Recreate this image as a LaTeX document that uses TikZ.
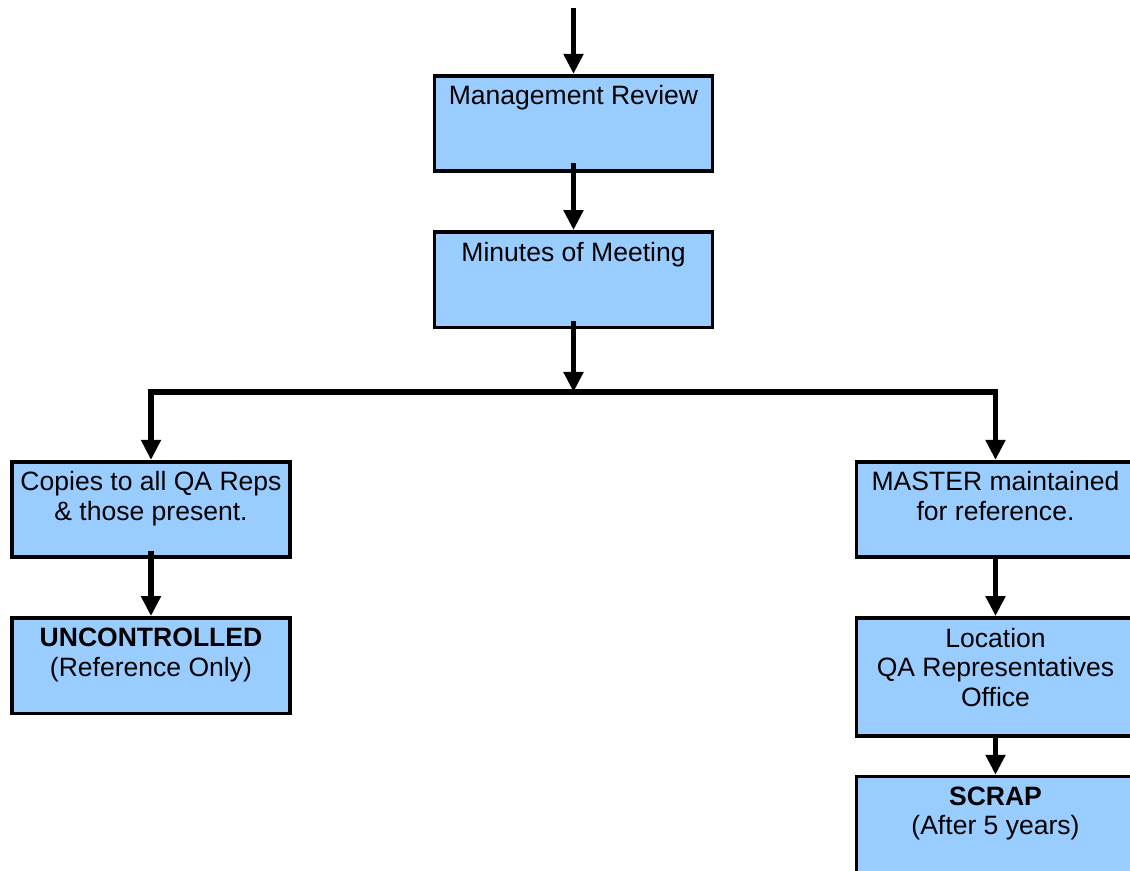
\documentclass[tikz,border=0pt]{standalone}
\usepackage{fontspec}
\setmainfont{Liberation Sans}
\usetikzlibrary{positioning,arrows.meta}
\definecolor{boxblue}{HTML}{99CCFF}
\tikzset{
  box/.style={draw,line width=2.1pt,fill=boxblue,minimum width=5.56cm,
              minimum height=1.91cm,inner sep=0pt},
  boxtext/.style={anchor=north,align=center,inner sep=0pt,yshift=-0.23cm,
              font=\fontsize{15.1}{16.9}\selectfont},
  flow/.style={-{Triangle[length=0.4cm,width=0.38cm]},line width=3.3pt},
}
\begin{document}
\begin{tikzpicture}[node distance=1.14cm]
  \useasboundingbox (0,0) rectangle (22.6,-17.42);
  % \draw[help lines] (0,-18) grid (23,0);
  \node[box] (mgmt) at (11.47,-2.47) {};
  \node[box,below=of mgmt] (minutes) {};
  \node[box] (copies) at (3.02,-10.19) {};
  \node[box,below=of copies] (uncontr) {};
  \node[box] (master) at (19.91,-10.19) {};
  \node[box,minimum height=2.36cm,below=of master] (location) {};
  \node[box,minimum height=2.4cm,below=0.74cm of location] (scrap) {};
  % texts in the boxes
  \node[boxtext] (mgmt-t) at (mgmt.north) {Management Review};
  \node[boxtext] (minutes-t) at (minutes.north) {Minutes of Meeting};
  \node[boxtext] (copies-t) at (copies.north) {Copies to all QA Reps\\\& those present.};
  \node[boxtext] (uncontr-t) at (uncontr.north) {\textbf{UNCONTROLLED}\\(Reference Only)};
  \node[boxtext] (master-t) at (master.north) {MASTER maintained\\for reference.};
  \node[boxtext] (location-t) at (location.north) {Location\\QA Representatives\\Office};
  \node[boxtext] (scrap-t) at (scrap.north) {\textbf{SCRAP}\\(After 5 years)};
  % connectors
  \coordinate (in) at (11.47,-0.16);
  \coordinate (split) at (11.47,-7.84);
  \draw[flow] (in) -- (mgmt.north);
  \draw[flow] ([yshift=0.2cm]mgmt.south) -- (minutes.north);
  \draw[flow] ([yshift=0.16cm]minutes.south) -- (split);
  \draw[flow] (split) -| (copies.north);
  \draw[flow] (split) -| (master.north);
  \draw[flow] ([yshift=0.16cm]copies.south) -- (uncontr.north);
  \draw[flow] (master.south) -- (location.north);
  \draw[flow] (location.south) -- (scrap.north);
\end{tikzpicture}
\end{document}
